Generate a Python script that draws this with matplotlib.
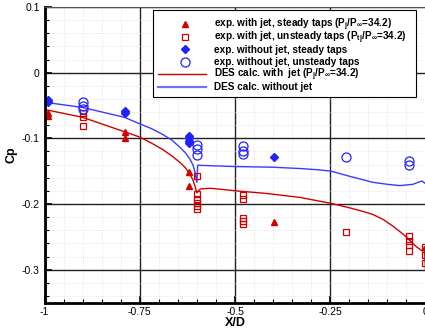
import numpy as np
import matplotlib
matplotlib.use("Agg")
import matplotlib.pyplot as plt
from matplotlib.ticker import MultipleLocator
from matplotlib.patches import Rectangle
from matplotlib.lines import Line2D

plt.rcParams['font.family'] = ['Liberation Sans', 'DejaVu Sans']
plt.rcParams['mathtext.fontset'] = 'custom'
plt.rcParams['mathtext.rm'] = 'Liberation Sans:bold'
plt.rcParams['mathtext.it'] = 'Liberation Sans:bold'
plt.rcParams['mathtext.bf'] = 'Liberation Sans:bold'

# exp. with jet, steady taps
jet_st_x = [-0.99, -0.99, -0.789, -0.789, -0.62, -0.62, -0.398]
jet_st_y = [-0.062, -0.066, -0.091, -0.100, -0.152, -0.172, -0.228]

# exp. with jet, unsteady taps
jet_un_x = [-0.9, -0.9, -0.9, -0.6, -0.6, -0.6, -0.6, -0.6, -0.6,
            -0.479, -0.479, -0.479, -0.479, -0.479, -0.209,
            -0.043, -0.043, -0.043, -0.043, -0.002, -0.002, -0.002]
jet_un_y = [-0.061, -0.067, -0.081, -0.158, -0.185, -0.192, -0.198, -0.203, -0.208,
            -0.187, -0.193, -0.221, -0.226, -0.231, -0.242,
            -0.249, -0.256, -0.263, -0.272, -0.265, -0.277, -0.29]

# exp. without jet, steady taps
nojet_st_x = [-0.99, -0.99, -0.789, -0.789, -0.62, -0.62, -0.62, -0.62, -0.398]
nojet_st_y = [-0.042, -0.045, -0.059, -0.062, -0.096, -0.100, -0.104, -0.107, -0.129]

# exp. without jet, unsteady taps
nojet_un_x = [-0.9, -0.9, -0.9, -0.6, -0.6, -0.6, -0.479, -0.479, -0.479,
              -0.209, -0.043, -0.043]
nojet_un_y = [-0.044, -0.050, -0.056, -0.110, -0.117, -0.125, -0.112, -0.119, -0.124,
              -0.129, -0.135, -0.141]

# DES calc. with jet
des_jet_x = [-1.0, -0.9, -0.79, -0.75, -0.72, -0.69, -0.665, -0.644, -0.63, -0.618,
             -0.61, -0.605, -0.60, -0.595, -0.59, -0.565, -0.497, -0.416, -0.329,
             -0.248, -0.198, -0.16, -0.138, -0.11, -0.085, -0.065, -0.049, -0.035,
             -0.022, -0.007, -0.003, 0.0]
des_jet_y = [-0.056, -0.068, -0.090, -0.098, -0.107, -0.117, -0.127, -0.137, -0.145, -0.155,
             -0.164, -0.173, -0.183, -0.179, -0.177, -0.176, -0.180, -0.184, -0.190,
             -0.199, -0.206, -0.212, -0.216, -0.224, -0.234, -0.243, -0.251, -0.259,
             -0.266, -0.272, -0.265, -0.30]

# DES calc. without jet
des_nojet_x = [-1.0, -0.9, -0.79, -0.75, -0.72, -0.69, -0.665, -0.644, -0.63, -0.618,
               -0.61, -0.605, -0.60, -0.598, -0.55, -0.497, -0.4, -0.329, -0.28,
               -0.248, -0.198, -0.138, -0.1, -0.067, -0.033, -0.015, -0.009, 0.0]
des_nojet_y = [-0.045, -0.053, -0.068, -0.078, -0.085, -0.094, -0.103, -0.114, -0.122, -0.132,
               -0.141, -0.152, -0.167, -0.141, -0.142, -0.143, -0.144, -0.146, -0.148,
               -0.150, -0.158, -0.167, -0.170, -0.172, -0.170, -0.166, -0.165, -0.169]

legend_labels = ['exp. with jet, steady taps (P$_j$/P$_\\infty$=34.2)',
                 'exp. with jet, unsteady taps (P$_{tj}$/P$_\\infty$=34.2)',
                 'exp. without jet, steady taps',
                 'exp. without jet, unsteady taps',
                 'DES calc. with  jet (P$_j$/P$_\\infty$=34.2)',
                 'DES calc. without jet']

red = '#d10000'
blue = '#2222ff'
blue_line = '#3b3bff'

fig = plt.figure(figsize=(4.25, 3.35), dpi=100)
ax = fig.add_axes([44.5 / 425, 32.5 / 335, 381 / 425, 295.5 / 335])

ax.plot(des_jet_x, des_jet_y, color=red, lw=1.0)
ax.plot(des_nojet_x, des_nojet_y, color=blue_line, lw=1.0)

styles = [dict(marker='^', color=red, ms=4.5),
          dict(marker='s', color=red, mfc='none', mew=0.9, ms=5),
          dict(marker='D', color=blue, ms=4.5),
          dict(marker='o', color=blue, mfc='none', mew=0.9, ms=6.5)]

for xs, ys, st in zip([jet_st_x, jet_un_x, nojet_st_x, nojet_un_x],
                      [jet_st_y, jet_un_y, nojet_st_y, nojet_un_y], styles):
    ax.plot(xs, ys, ls='none', **st)

ax.set_xlim(-1, 0)
ax.set_ylim(-0.35, 0.1)
ax.xaxis.set_minor_locator(MultipleLocator(0.05))
ax.yaxis.set_minor_locator(MultipleLocator(0.02))
ax.set_xticks([-1, -0.75, -0.5, -0.25, 0])
ax.set_xticklabels(['-1', '-0.75', '-0.5', '-0.25', '0'])
ax.set_yticks([-0.3, -0.2, -0.1, 0, 0.1])
ax.set_yticklabels(['-0.3', '-0.2', '-0.1', '0', '0.1'])

ax.grid(which='major', color='#222222', lw=1.0)
ax.grid(which='minor', color='#dddddd', lw=0.6, ls=':')
ax.set_axisbelow(True)
ax.tick_params(which='both', direction='in', labelsize=7.5, top=False, right=False)
ax.tick_params(which='major', length=5, width=1.2)
ax.tick_params(which='minor', length=3, width=0.8)
ax.spines['left'].set_linewidth(2)
ax.spines['bottom'].set_linewidth(2)
ax.spines['top'].set_color('#555555')
ax.spines['right'].set_visible(False)

ax.set_xlabel('X/D', fontsize=9, fontweight='bold', labelpad=0)
ax.set_ylabel('Cp', fontsize=9, fontweight='bold', labelpad=3)

# hand built legend box (pixel layout converted to axes fractions)
def ax_x(px):
    return (px - 44.5) / 381

def ax_y(py):
    return (302.5 - py) / 295.5

ax.add_patch(Rectangle((ax_x(153), ax_y(97)), ax_x(416) - ax_x(153), ax_y(10) - ax_y(97),
                       transform=ax.transAxes, facecolor='white', edgecolor='black',
                       lw=0.8, zorder=5))
row_y = [24, 36.5, 49, 61.5, 74, 86.5]
for i, label in enumerate(legend_labels):
    y = ax_y(row_y[i])
    if i < 4:
        ax.add_line(Line2D([ax_x(185)], [y], ls='none', transform=ax.transAxes,
                           zorder=6, **styles[i]))
    else:
        ax.add_line(Line2D([ax_x(158), ax_x(206)], [y], transform=ax.transAxes, zorder=6,
                           color=[red, '#7070ff'][i - 4], lw=[1.0, 1.6][i - 4]))
    ax.text(ax_x(214), ax_y(row_y[i] + 3.6), label, transform=ax.transAxes,
            fontsize=7.2, fontweight='bold', va='baseline', ha='left', zorder=6)

fig.savefig('out.png', dpi=100)
